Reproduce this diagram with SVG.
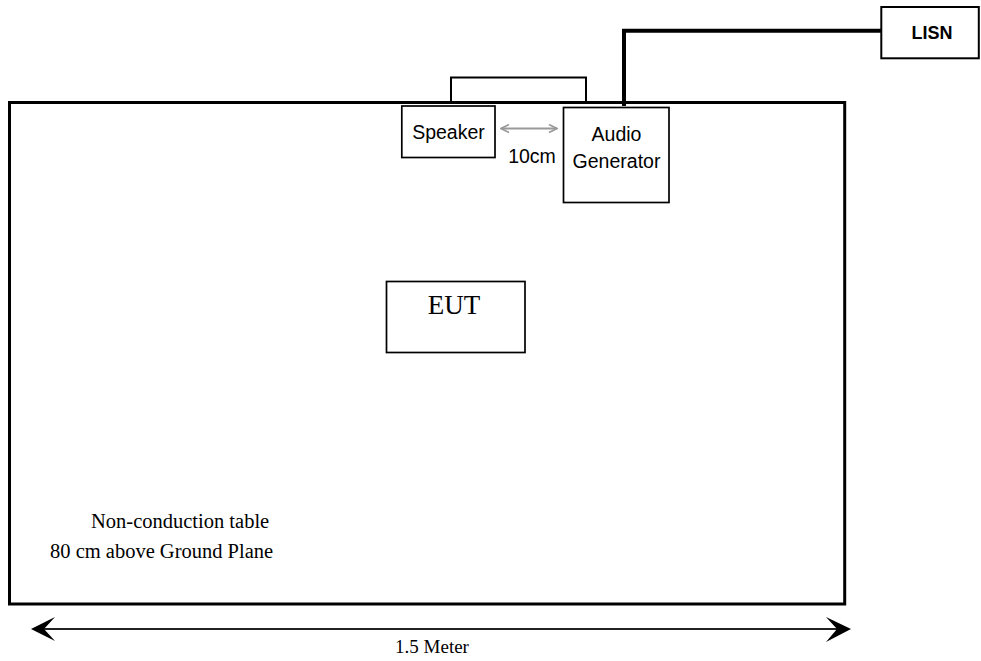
<svg xmlns="http://www.w3.org/2000/svg" width="981" height="661" viewBox="0 0 981 661">
<defs>
<style>
.box{fill:#fff;stroke:#000;stroke-width:1.7}
.sans{font-family:"Liberation Sans",Arial,sans-serif;fill:#000}
.serif{font-family:"Liberation Serif","Times New Roman",serif;fill:#000}
.cable{fill:none;stroke:#000;stroke-width:4}
.gray{fill:none;stroke:#999;stroke-width:2}
</style>
<marker id="gv" viewBox="0 0 10 10" refX="9" refY="5" markerWidth="10" markerHeight="10" markerUnits="userSpaceOnUse" orient="auto-start-reverse">
<path d="M1,1 L9,5 L1,9" fill="none" stroke="#999" stroke-width="1.6"/>
</marker>
</defs>
<rect width="981" height="661" fill="#fff"/>
<g id="table">
<rect x="9.5" y="102.5" width="835.2" height="501.5" fill="none" stroke="#000" stroke-width="3"/>
<text class="serif" x="91" y="528" font-size="20.5">Non-conduction table</text>
<text class="serif" x="50" y="558" font-size="20.5">80 cm above Ground Plane</text>
</g>
<g id="bracket">
<path d="M451,102 V77.5 H586 V102" fill="none" stroke="#000" stroke-width="2"/>
</g>
<g id="connectors">
<path class="cable" d="M624,106 V30.7 H881"/>
<line class="gray" x1="501" y1="128.5" x2="557" y2="128.5" marker-start="url(#gv)" marker-end="url(#gv)"/>
<line x1="44" y1="629" x2="837" y2="629" stroke="#222" stroke-width="2"/>
<polygon points="31,629 55,617 44,629 55,641" fill="#000"/>
<polygon points="851,629 826,617 837,629 826,642" fill="#000"/>
</g>
<g id="speaker">
<rect class="box" x="401.8" y="106" width="93.2" height="51.5"/>
<text class="sans" x="448.5" y="139" font-size="19.5" text-anchor="middle">Speaker</text>
</g>
<g id="label-10cm">
<text class="sans" x="532" y="163.3" font-size="19.5" text-anchor="middle">10cm</text>
</g>
<g id="audio-generator">
<rect class="box" x="563.5" y="107.5" width="105.5" height="95"/>
<text class="sans" x="616.5" y="140.7" font-size="19.5" text-anchor="middle">Audio</text>
<text class="sans" x="616.5" y="168.3" font-size="19.5" text-anchor="middle">Generator</text>
</g>
<g id="lisn">
<rect x="881.3" y="7" width="97.5" height="51.3" fill="#fff" stroke="#000" stroke-width="2"/>
<text class="sans" x="932" y="39.3" font-size="18" font-weight="bold" text-anchor="middle">LISN</text>
</g>
<g id="eut">
<rect class="box" x="386.5" y="281.5" width="138.5" height="71"/>
<text class="serif" x="454" y="314.3" font-size="27" text-anchor="middle">EUT</text>
</g>
<g id="dimension">
<text class="serif" x="432" y="653" font-size="19" text-anchor="middle">1.5 Meter</text>
</g>
</svg>
